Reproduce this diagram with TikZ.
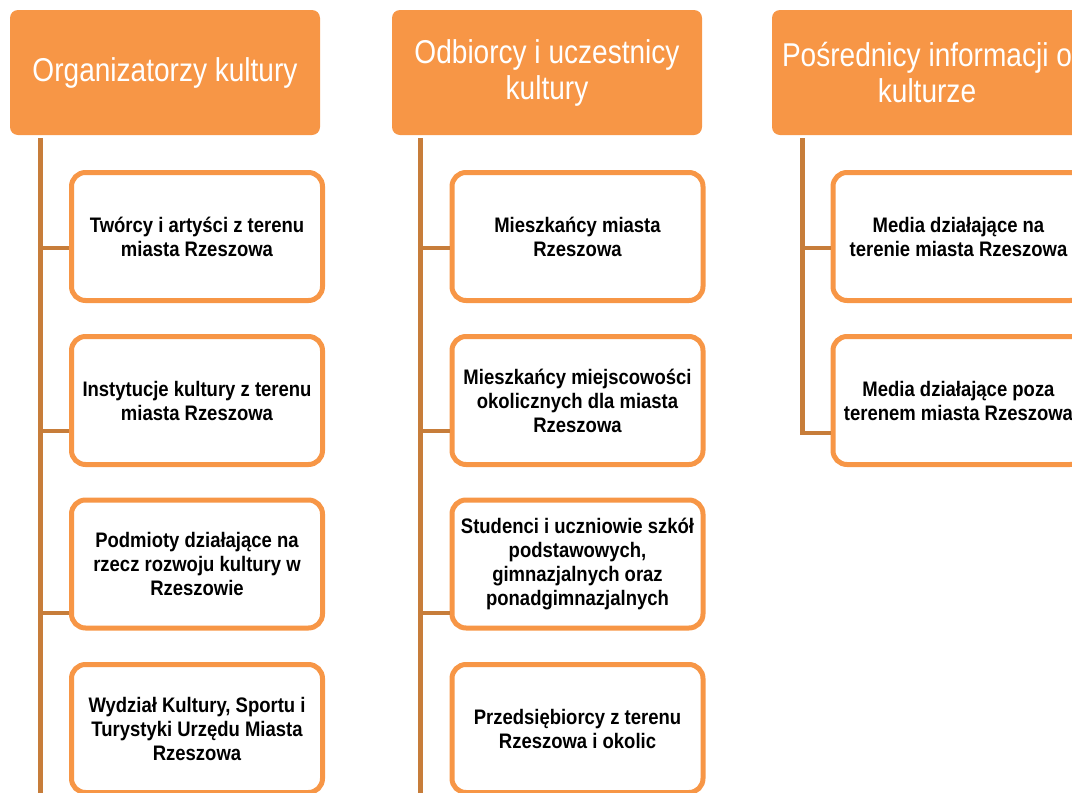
\documentclass[tikz,border=0pt]{standalone}
\usepackage{fontspec}
\setmainfont{Liberation Sans}
\newfontfamily\hdrfont[FakeStretch=0.85]{Liberation Sans}
\newfontfamily\boxfont[FakeStretch=0.88]{Liberation Sans Bold}
\definecolor{orng}{RGB}{247,150,70}
\definecolor{brwn}{RGB}{199,125,58}
\tikzset{
  hdr/.style={fill=orng, draw=none, rounded corners=8pt, minimum width=310pt, minimum height=125pt,
    inner sep=0pt, text=white, align=center, font=\hdrfont\fontsize{33}{36}\selectfont},
  itembox/.style={fill=white, draw=orng, line width=5pt, rounded corners=14pt, minimum width=251pt,
    minimum height=128pt, inner sep=0pt, text=black, align=center, font=\boxfont\fontsize{21}{24}\selectfont},
  trunk/.style={draw=brwn, line width=5pt},
  branch/.style={draw=brwn, line width=4pt}
}
\begin{document}
\begin{tikzpicture}[x=1pt,y=-1pt]
\useasboundingbox (0,0) rectangle (1072,793);
\clip (0,0) rectangle (1072,793);
% headers
\node[hdr] (h1) at (165,72.5) {Organizatorzy kultury};
\node[hdr] (h2) at (547,72.5) {Odbiorcy i uczestnicy\\kultury};
\node[hdr] (h3) at (927,72.5) {Pośrednicy informacji o\\kulturze};
% trunks
\coordinate (t1a) at (40,138); \coordinate (t1b) at (40,800);
\coordinate (t2a) at (420,138); \coordinate (t2b) at (420,800);
\coordinate (t3a) at (802,138); \coordinate (t3b) at (802,435);
\draw[trunk] (t1a) -- (t1b);
\draw[trunk] (t2a) -- (t2b);
\draw[trunk] (t3a) -- (t3b);
% column 1 boxes
\node[itembox] (b11) at (197,236.5) {Twórcy i artyści z terenu\\miasta Rzeszowa};
\node[itembox] (b12) at (197,400.5) {Instytucje kultury z terenu\\miasta Rzeszowa};
\node[itembox] (b13) at (197,564) {Podmioty działające na\\rzecz rozwoju kultury w\\Rzeszowie};
\node[itembox] (b14) at (197,728.5) {Wydział Kultury, Sportu i\\Turystyki Urzędu Miasta\\Rzeszowa};
% column 2 boxes
\node[itembox] (b21) at (577.5,236.5) {Mieszkańcy miasta\\Rzeszowa};
\node[itembox] (b22) at (577.5,400.5) {Mieszkańcy miejscowości\\okolicznych dla miasta\\Rzeszowa};
\node[itembox] (b23) at (577.5,564) {Studenci i uczniowie szkół\\podstawowych,\\gimnazjalnych oraz\\ponadgimnazjalnych};
\node[itembox] (b24) at (577.5,728.5) {Przedsiębiorcy z terenu\\Rzeszowa i okolic};
% column 3 boxes
\node[itembox] (b31) at (958.5,236.5) {Media działające na\\terenie miasta Rzeszowa};
\node[itembox] (b32) at (958.5,400.5) {Media działające poza\\terenem miasta Rzeszowa};
% branch points
\coordinate (c11) at (40,248); \coordinate (c12) at (40,431); \coordinate (c13) at (40,613);
\coordinate (c21) at (420,248); \coordinate (c22) at (420,431); \coordinate (c23) at (420,613);
\coordinate (c31) at (802,248); \coordinate (c32) at (802,433);
\draw[branch] (c11) -- (c11 -| b11.west);
\draw[branch] (c12) -- (c12 -| b12.west);
\draw[branch] (c13) -- (c13 -| b13.west);
\draw[branch] (c21) -- (c21 -| b21.west);
\draw[branch] (c22) -- (c22 -| b22.west);
\draw[branch] (c23) -- (c23 -| b23.west);
\draw[branch] (c31) -- (c31 -| b31.west);
\draw[branch] (c32) -- (c32 -| b32.west);
\end{tikzpicture}
\end{document}
